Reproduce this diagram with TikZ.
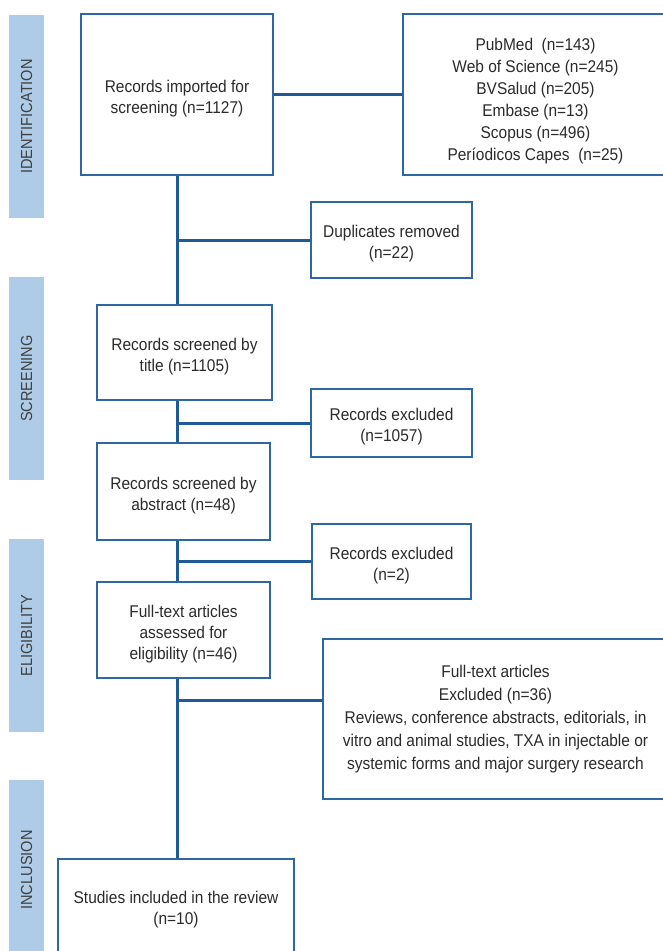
\documentclass[tikz,border=0pt]{standalone}
\usepackage{fontspec}
\setmainfont[FakeStretch=0.91]{Liberation Sans}

\definecolor{stagefill}{HTML}{AECBE8}
\definecolor{linkblue}{HTML}{1D5A97}
\definecolor{boxblue}{HTML}{2E67A3}
\definecolor{txtgray}{HTML}{2B2B2B}

% taller first line, pushes the text a little down in its box
\newcommand{\lift}[1][20pt]{\rule{0pt}{#1}}

\begin{document}
\begin{tikzpicture}[x=1pt, y=-1pt,
    box/.style={draw=boxblue, line width=1.2pt, fill=white, text=txtgray, align=center, inner sep=2pt, font=\fontsize{17}{21}\selectfont},
    stage/.style={fill=stagefill, rotate=90, text=txtgray!90, minimum height=35pt, inner sep=0pt, font=\fontsize{16}{18}\selectfont},
    link/.style={draw=linkblue, line width=3pt}]

     \clip (0,0) rectangle (663,951);

     % stages
     \node (ident) at (26.5,116.5) [stage, minimum width=203pt] {IDENTIFICATION};
     \node (screen) at (26.5,378.5) [stage, minimum width=203pt] {SCREENING};
     \node (elig) at (26.5,635.5) [stage, minimum width=193pt] {ELIGIBILITY};
     \node (incl) at (26.5,870) [stage, minimum width=180pt] {INCLUSION};

     % main column
     \node (imported) at (177,94.5) [box, minimum width=192pt, minimum height=161pt] {\lift Records imported for\\screening (n=1127)};
     \node (title) at (184.5,352.5) [box, minimum width=175pt, minimum height=95pt] {\lift Records screened by\\title (n=1105)};
     \node (abstract) at (183.5,491.5) [box, minimum width=173pt, minimum height=97pt] {\lift Records screened by\\abstract (n=48)};
     \node (fulltext) at (183.5,630) [box, minimum width=173pt, minimum height=96pt] {\lift Full-text articles\\assessed for\\eligibility (n=46)};
     \node (included) at (176,909.5) [box, minimum width=236pt, minimum height=101pt] {Studies included in the review\\(n=10)};

     % side boxes
     \node (sources) at (535.5,94.5) [box, minimum width=265pt, minimum height=161pt, font=\fontsize{17}{22}\selectfont] {\lift[25pt]PubMed~ (n=143)\\Web of Science (n=245)\\BVSalud (n=205)\\Embase (n=13)\\Scopus (n=496)\\Períodicos Capes~ (n=25)};
     \node (dupl) at (391.5,240) [box, minimum width=161pt, minimum height=76pt] {\lift Duplicates removed\\(n=22)};
     \node (excl1) at (391.5,423) [box, minimum width=161pt, minimum height=68pt] {\lift Records excluded\\(n=1057)};
     \node (excl2) at (391.5,561.5) [box, minimum width=159pt, minimum height=75pt] {\lift Records excluded\\(n=2)};
     \node (excl3) at (495.5,719) [box, minimum width=345pt, minimum height=160pt, font=\fontsize{17}{23}\selectfont] {Full-text articles\\Excluded (n=36)\\Reviews, conference abstracts, editorials, in\\vitro and animal studies, TXA in injectable or\\systemic forms and major surgery research};

     \coordinate (split3) at (177,700);

     \draw [link] (imported) -- (sources);
     \draw [link] (imported.south) -- (imported.south |- title.north);
     \draw [link] (imported.south |- dupl.west) -- (dupl.west);
     \draw [link] (imported.south |- title.south) -- (imported.south |- abstract.north);
     \draw [link] (imported.south |- excl1.west) -- (excl1.west);
     \draw [link] (imported.south |- abstract.south) -- (imported.south |- fulltext.north);
     \draw [link] (imported.south |- excl2.west) -- (excl2.west);
     \draw [link] (imported.south |- fulltext.south) -- (included.north -| imported.south);
     \draw [link] (split3) -- (split3 -| excl3.west);

 \end{tikzpicture}
\end{document}
